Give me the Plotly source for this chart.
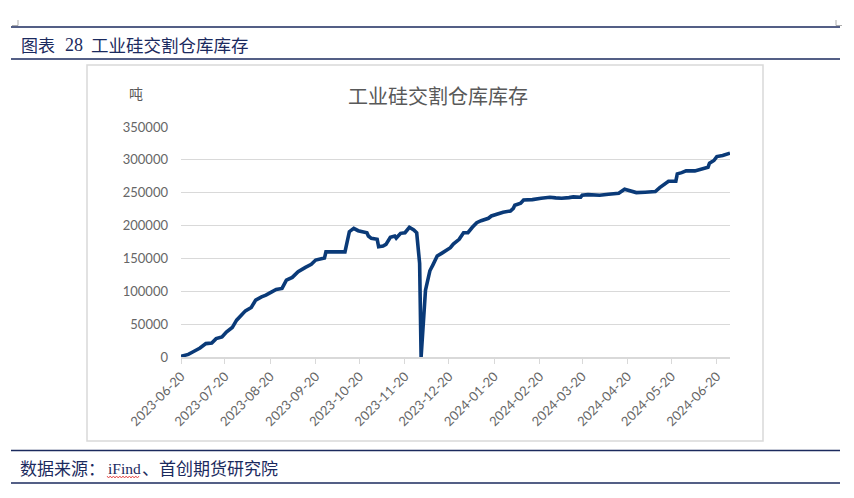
import plotly.graph_objects as go

# ---- data ----
dates = [
    "2023-06-20", "2023-06-25", "2023-06-28", "2023-07-03", "2023-07-07", "2023-07-11",
    "2023-07-14", "2023-07-18", "2023-07-21", "2023-07-25", "2023-07-28", "2023-07-31",
    "2023-08-03", "2023-08-07", "2023-08-10", "2023-08-14", "2023-08-17", "2023-08-21",
    "2023-08-24", "2023-08-28", "2023-08-31", "2023-09-04", "2023-09-08", "2023-09-13",
    "2023-09-17", "2023-09-20", "2023-09-23", "2023-09-26", "2023-09-27", "2023-10-10",
    "2023-10-13", "2023-10-16", "2023-10-19", "2023-10-22", "2023-10-25", "2023-10-26",
    "2023-10-28", "2023-11-01", "2023-11-02", "2023-11-05", "2023-11-07", "2023-11-10",
    "2023-11-13", "2023-11-14", "2023-11-17", "2023-11-20", "2023-11-23", "2023-11-26",
    "2023-11-28", "2023-11-30", "2023-12-01", "2023-12-04", "2023-12-07", "2023-12-09",
    "2023-12-12", "2023-12-15", "2023-12-18", "2023-12-21", "2023-12-23", "2023-12-27",
    "2023-12-30", "2024-01-02", "2024-01-05", "2024-01-08", "2024-01-11", "2024-01-16",
    "2024-01-18", "2024-01-22", "2024-01-26", "2024-01-31", "2024-02-02", "2024-02-03",
    "2024-02-07", "2024-02-09", "2024-02-15", "2024-02-21", "2024-02-27", "2024-03-02",
    "2024-03-06", "2024-03-11", "2024-03-14", "2024-03-19", "2024-03-20", "2024-03-24",
    "2024-04-01", "2024-04-07", "2024-04-14", "2024-04-18", "2024-04-22", "2024-04-26",
    "2024-05-02", "2024-05-09", "2024-05-12", "2024-05-16", "2024-05-18", "2024-05-23",
    "2024-05-24", "2024-05-27", "2024-05-30", "2024-06-05", "2024-06-10", "2024-06-14",
    "2024-06-15", "2024-06-18", "2024-06-20", "2024-06-24", "2024-06-29",
]
inventory = [
    1000, 4000, 7600, 13700, 20400, 21400,
    28000, 30500, 38100, 44800, 56000, 63600,
    70200, 75300, 86500, 91500, 94100, 99100,
    102800, 104300, 117000, 121100, 129700, 136400,
    141000, 147500, 148600, 150500, 160000, 160000,
    190700, 195800, 192200, 190700, 189100, 184100,
    180600, 179100, 167800, 168900, 171400, 182100,
    184100, 181000, 188200, 189100, 197400, 193300,
    189100, 142500, 0, 101700, 131200, 139900,
    153600, 157700, 162700, 166300, 171900, 179100,
    189100, 189100, 197400, 204400, 207400, 211100,
    214600, 217700, 220300, 222200, 226300, 230900,
    234000, 239000, 239500, 241600, 243100, 242100,
    241600, 242500, 243600, 243100, 246200, 247100,
    246200, 247700, 249200, 255300, 253200, 250200,
    250800, 251700, 257800, 265400, 267500, 267500,
    278700, 280600, 283200, 283200, 285800, 288900,
    295000, 299000, 305000, 306600, 310200,
]
x_ticks = [
    "2023-06-20", "2023-07-20", "2023-08-20", "2023-09-20", "2023-10-20", "2023-11-20",
    "2023-12-20", "2024-01-20", "2024-02-20", "2024-03-20", "2024-04-20", "2024-05-20",
    "2024-06-20",
]
y_ticks = [0, 50000, 100000, 150000, 200000, 250000, 300000, 350000]

header_cn1 = "图表"
header_num = "28"
header_cn2 = "工业硅交割仓库库存"
chart_title = "工业硅交割仓库库存"
unit = "吨"
source_a = "数据来源："
source_b = "iFind"
source_c = "、首创期货研究院"

# ---- geometry: page has an 8px body margin, so shift everything by -8 ----
OFF = 8
W, H = 854 - OFF, 498 - OFF
L, R, T, B = 181 - OFF, 730 - OFF, 127 - OFF, 357 - OFF
pw, ph = R - L, B - T


def px(x):  # x given in reference-screen pixels
    return (x - OFF - L) / pw


def py(y):  # y given in reference-screen pixels
    return (B - (y - OFF)) / ph


NAVY = "#1B2A5E"
GREY_TXT = "#595959"
TICK_TXT = "#666666"
GRID = "#D9D9D9"
CJK = "Noto Sans CJK SC"
SERIF = "Liberation Serif"

fig = go.Figure()
fig.add_trace(go.Scatter(
    x=dates, y=inventory, mode="lines",
    line=dict(color="#0A3A78", width=3.6),
    hoverinfo="skip", showlegend=False,
))

shapes = []
for yy in (27, 59, 450.5, 483):
    shapes.append(dict(type="line", xref="paper", yref="paper",
                       x0=px(11), x1=px(840), y0=py(yy), y1=py(yy),
                       line=dict(color=NAVY, width=1.4)))
# tiny corner marks
for (xa, xb, xv) in ((12, 18, 18), (836, 842, 836)):
    shapes.append(dict(type="line", xref="paper", yref="paper",
                       x0=px(xa), x1=px(xb), y0=py(25.5), y1=py(25.5),
                       line=dict(color="#999999", width=0.8)))
    shapes.append(dict(type="line", xref="paper", yref="paper",
                       x0=px(xv), x1=px(xv), y0=py(20), y1=py(25.5),
                       line=dict(color="#999999", width=0.8)))
# chart box
shapes.append(dict(type="rect", xref="paper", yref="paper",
                   x0=px(87), x1=px(763), y0=py(441), y1=py(65),
                   line=dict(color=GRID, width=1.5), layer="below"))
# red wavy spell-check underline under "iFind"
pts = []
xw = 107.0
k = 0
while xw <= 139.5:
    yw = 476.0 if k % 2 == 0 else 478.0
    pts.append(f"{px(xw):.5f},{py(yw):.5f}")
    xw += 1.6
    k += 1
shapes.append(dict(type="path", xref="paper", yref="paper",
                   path="M " + " L ".join(pts),
                   line=dict(color="#E03030", width=0.8)))

annotations = [
    dict(text=header_cn1, x=px(18.5), y=py(44.5), xref="paper", yref="paper",
         xanchor="left", yanchor="middle", showarrow=False,
         font=dict(family=CJK, size=17, color=NAVY)),
    dict(text=header_num, x=px(62.5), y=py(45), xref="paper", yref="paper",
         xanchor="left", yanchor="middle", showarrow=False,
         font=dict(family=SERIF, size=18, color=NAVY)),
    dict(text=header_cn2, x=px(88.5), y=py(44.5), xref="paper", yref="paper",
         xanchor="left", yanchor="middle", showarrow=False,
         font=dict(family=CJK, size=17.5, color=NAVY)),
    dict(text=chart_title, x=px(437.5), y=py(96), xref="paper", yref="paper",
         xanchor="center", yanchor="middle", showarrow=False,
         font=dict(family=CJK, size=20, color=GREY_TXT)),
    dict(text=unit, x=px(135.5), y=py(92.5), xref="paper", yref="paper",
         xanchor="center", yanchor="middle", showarrow=False,
         font=dict(family=CJK, size=14, color=GREY_TXT)),
    dict(text=source_a, x=px(18), y=py(467.5), xref="paper", yref="paper",
         xanchor="left", yanchor="middle", showarrow=False,
         font=dict(family=CJK, size=17, color=NAVY)),
    dict(text=source_b, x=px(106), y=py(468), xref="paper", yref="paper",
         xanchor="left", yanchor="middle", showarrow=False,
         font=dict(family=SERIF, size=15.5, color=NAVY)),
    dict(text=source_c, x=px(140), y=py(467.5), xref="paper", yref="paper",
         xanchor="left", yanchor="middle", showarrow=False,
         font=dict(family=CJK, size=17, color=NAVY)),
]

fig.update_layout(
    width=W, height=H,
    margin=dict(l=L, r=W - R, t=T, b=H - B, pad=0),
    paper_bgcolor="white", plot_bgcolor="white",
    shapes=shapes, annotations=annotations,
    font=dict(family="Lato", size=13, color=TICK_TXT),
    xaxis=dict(
        type="date", range=["2023-06-20", "2024-06-29"],
        tickmode="array", tickvals=x_ticks, ticktext=x_ticks,
        tickangle=-45, showgrid=False, zeroline=False,
        showline=True, linecolor=GRID, linewidth=1.5,
        ticks="outside", ticklen=5, tickcolor=GRID, tickwidth=1,
        tickfont=dict(family="Lato", size=13, color=TICK_TXT),
    ),
    yaxis=dict(
        range=[0, 350000], tickmode="array", tickvals=y_ticks,
        ticktext=[str(v) for v in y_ticks],
        showgrid=True, gridcolor=GRID, gridwidth=1.3,
        zeroline=False, showline=False, ticks="",
        ticklabelstandoff=12,
        tickfont=dict(family="Lato", size=13, color=TICK_TXT),
    ),
)

fig.write_html("out.html")
